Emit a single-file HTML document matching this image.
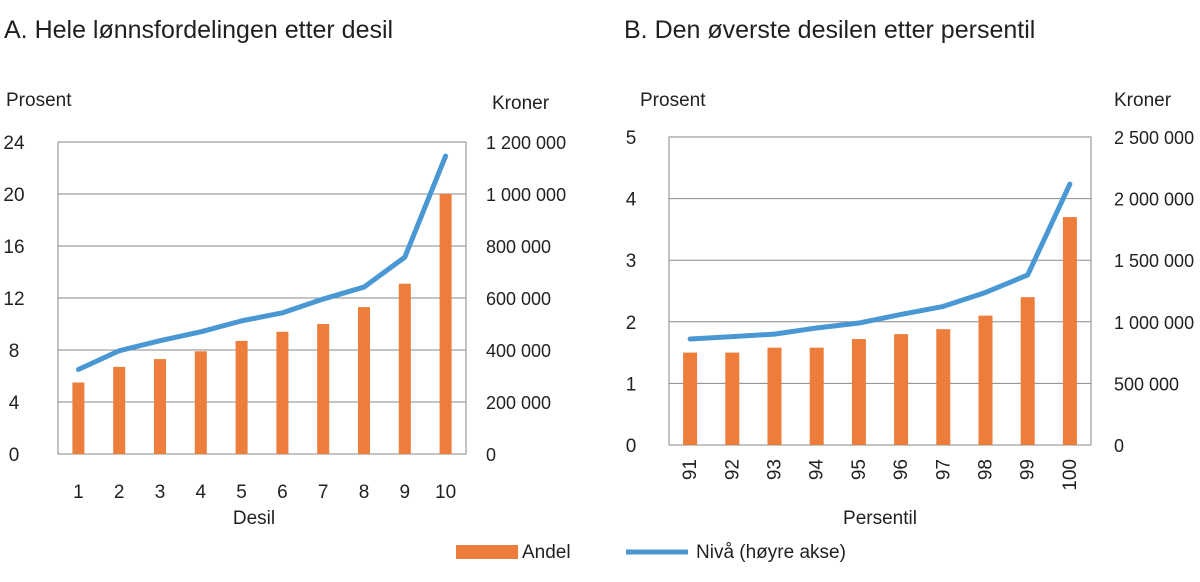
<!DOCTYPE html>
<html><head><meta charset="utf-8"><style>
body{margin:0;background:#fff;}
svg{display:block;font-family:"Liberation Sans",sans-serif;fill:#231f20;}
</style></head><body>
<svg id="c" width="1200" height="582">
<text x="4" y="38" font-size="25">A. Hele lønnsfordelingen etter desil</text>
<text x="624" y="38" font-size="25">B. Den øverste desilen etter persentil</text>
<text x="6" y="106" font-size="19">Prosent</text>
<text x="492" y="109" font-size="19">Kroner</text>
<text x="640" y="106" font-size="19">Prosent</text>
<text x="1114" y="106" font-size="19">Kroner</text>
<text x="254" y="524" font-size="19" text-anchor="middle">Desil</text>
<text x="880" y="524" font-size="19" text-anchor="middle">Persentil</text>
<rect x="456" y="545" width="62" height="14" fill="#ed7d3b"/>
<text x="522" y="558" font-size="19">Andel</text>
<line x1="626" y1="552" x2="688" y2="552" stroke="#4a98d3" stroke-width="5"/>
<text x="696" y="558" font-size="19">Nivå (høyre akse)</text>
<g id="ga"></g><g id="gb"></g>
</svg>
<script>
const catsA=["1","2","3","4","5","6","7","8","9","10"];
const barsA=[5.5,6.7,7.3,7.9,8.7,9.4,10.0,11.3,13.1,20.0];
const lineA=[325000,397000,436000,470000,512000,543000,596000,642000,757000,1146000];
const leftTicksA=[0,4,8,12,16,20,24];
const rightTicksA=[0,200000,400000,600000,800000,1000000,1200000];
const rightLabelsA=["0","200  000","400  000","600  000","800  000","1 000  000","1 200  000"];
const catsB=["91","92","93","94","95","96","97","98","99","100"];
const barsB=[1.5,1.5,1.58,1.58,1.72,1.8,1.88,2.1,2.4,3.7];
const lineB=[860000,880000,900000,950000,990000,1060000,1125000,1238000,1380000,2118000];
const leftTicksB=[0,1,2,3,4,5];
const rightTicksB=[0,500000,1000000,1500000,2000000,2500000];
const rightLabelsB=["0","500 000","1 000 000","1 500 000","2 000 000","2 500 000"];
const NS="http://www.w3.org/2000/svg";
function mk(g,t,a){const e=document.createElementNS(NS,t);for(const k in a)e.setAttribute(k,a[k]);g.appendChild(e);return e;}
function draw(id,o){
 const g=document.getElementById(id);
 const {x0,x1,y0,y1,cats,bars,line,lt,rt,rl,lmax,rmax,bw,rot,llx,rlx,tag}=o;
 const step=(x1-x0)/cats.length;
 const xs=i=>x0+step*(i+0.5);
 const yl=v=>y1-(v/lmax)*(y1-y0);
 const yr=v=>y1-(v/rmax)*(y1-y0);
 lt.forEach((v,i)=>{
  const l=mk(g,"line",{x1:x0,x2:x1,y1:yl(v),y2:yl(v),stroke:"#8a8a8a","stroke-width":1});
  
  
  const t=mk(g,"text",{x:llx,y:yl(v)+7,"font-size":19,"text-anchor":"middle"});t.textContent=v;
  
  
 });
 rt.forEach((v,i)=>{
  const t=mk(g,"text",{x:rlx,y:yr(v)+7,"font-size":18,"xml:space":"preserve"});t.textContent=rl[i];
  
  
 });
 const fr=mk(g,"rect",{x:x0,y:y0,width:x1-x0,height:y1-y0,fill:"none",stroke:"#8a8a8a","stroke-width":1});
 
 
 bars.forEach((v,i)=>{
  const r=mk(g,"rect",{x:xs(i)-bw/2,y:yl(v),width:bw,height:y1-yl(v),fill:"#ed7d3b"});
  
  
  let t;
  if(rot){t=mk(g,"text",{x:0,y:0,"font-size":19,"text-anchor":"end",transform:`translate(${xs(i)+6},${y1+14}) rotate(-90)`});}
  else{t=mk(g,"text",{x:xs(i),y:y1+44,"font-size":19,"text-anchor":"middle"});}
  t.textContent=cats[i];
  
  
 });
 const p=mk(g,"polyline",{points:line.map((v,i)=>xs(i)+","+yr(v)).join(" "),fill:"none",stroke:"#4a98d3","stroke-width":5,"stroke-linecap":"round","stroke-linejoin":"round"});
 
 
}
draw("ga",{x0:58,x1:466,y0:142,y1:454,cats:catsA,bars:barsA,line:lineA,lt:leftTicksA,rt:rightTicksA,rl:rightLabelsA,lmax:24,rmax:1200000,bw:12,rot:false,llx:14,rlx:486,tag:"a"});
draw("gb",{x0:669,x1:1091,y0:137,y1:445,cats:catsB,bars:barsB,line:lineB,lt:leftTicksB,rt:rightTicksB,rl:rightLabelsB,lmax:5,rmax:2500000,bw:14,rot:true,llx:631,rlx:1114,tag:"b"});
</script>
</body></html>
